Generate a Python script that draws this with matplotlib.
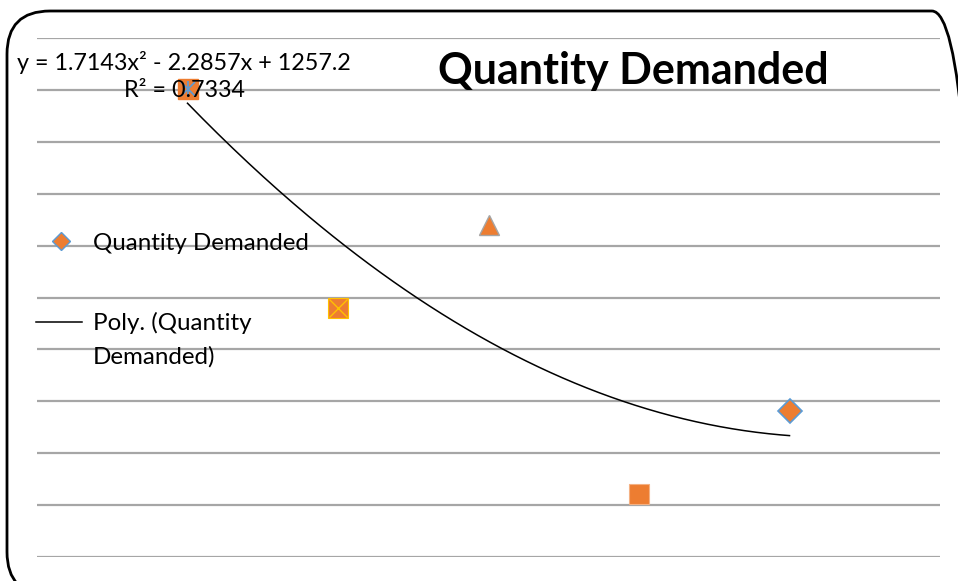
import numpy as np
import matplotlib.pyplot as plt
from matplotlib.patches import FancyBboxPatch
from matplotlib.lines import Line2D

plt.rcParams['font.family'] = ['Lato', 'DejaVu Sans']

# data (axis hidden, gridlines every 100)
x = [1, 2, 3, 4, 5]
qty = [902, 480, 640, 121, 281]

title = "Quantity Demanded"
eq_text = "y = 1.7143x² - 2.2857x + 1257.2"
r2_text = "R² = 0.7334"

orange = "#ED7D31"
blue = "#5B9BD5"
gold = "#FFC000"
grey = "#A5A5A5"

fig = plt.figure(figsize=(9.58, 5.81), dpi=100)
ax = fig.add_axes([37/958, 24/581, 903/958, 519/581])
ax.set_xlim(0, 6)
ax.set_ylim(0, 1000)
ax.set_yticks(np.arange(0, 1001, 100))
ax.set_xticks([])
ax.grid(True, axis='y', color='#A6A6A6', lw=1.6)
ax.tick_params(left=False, labelleft=False)
for s in ax.spines.values():
    s.set_visible(False)

# trendline (2nd order poly fit)
coef = np.polyfit(x, qty, 2)
xs = np.linspace(x[0], x[-1], 200)
ax.plot(xs, np.polyval(coef, xs), color='black', lw=1.1, zorder=3)

# each point has its own marker style
ax.plot(x[0], qty[0], 's', ms=14, mfc=orange, mec=orange, zorder=4)
ax.plot(x[0], qty[0], 'x', ms=10, mec=blue, mew=1.2, zorder=5)
ax.plot(x[0], qty[0], '|', ms=12, mec=blue, mew=1.2, zorder=5)
ax.plot(x[1], qty[1], 's', ms=14, mfc=orange, mec=gold, mew=0.8, zorder=4)
ax.plot(x[1], qty[1], 'x', ms=13, mec=gold, mew=1.0, zorder=5)
ax.plot(x[2], qty[2], '^', ms=15, mfc=orange, mec=grey, mew=1.0, zorder=4)
ax.plot(x[3], qty[3], 's', ms=14, mfc=orange, mec='#F4B183', mew=0.8, zorder=4)
ax.plot(x[4], qty[4], 'D', ms=12, mfc=orange, mec=blue, mew=1.2, zorder=4)

# title + trendline label (drawn over the marks like the original)
fig.text(633/958, 1 - 71/581, title, fontsize=31, fontweight='bold',
         ha='center', va='center')
fig.text(184/958, 1 - 62/581, eq_text, fontsize=16.8, ha='center',
         va='center', zorder=6)
fig.text(184/958, 1 - 91/581, r2_text, fontsize=16.8, ha='center',
         va='center', zorder=6)

# legend on the left
fig.add_artist(Line2D([61/958], [1 - 241/581], marker='D', ms=9, mfc=orange,
                      mec=blue, mew=1.0, ls='none'))
fig.text(93/958, 1 - 243/581, "Quantity Demanded", fontsize=17.4, va='center')
fig.add_artist(Line2D([36/958, 82/958], [1 - 322/581, 1 - 322/581],
                      color='black', lw=1.1))
fig.text(93/958, 1 - 323/581, "Poly. (Quantity", fontsize=17.4, va='center')
fig.text(93/958, 1 - 357/581, "Demanded)", fontsize=17.4, va='center')

# rounded chart border
box = FancyBboxPatch((7/958, -14/581), 968/958, 584/581,
                     boxstyle="round,pad=0,rounding_size=0.045",
                     transform=fig.transFigure, fill=False, ec='black', lw=2,
                     mutation_aspect=958/581)
fig.add_artist(box)

fig.savefig('out.png', dpi=100)
